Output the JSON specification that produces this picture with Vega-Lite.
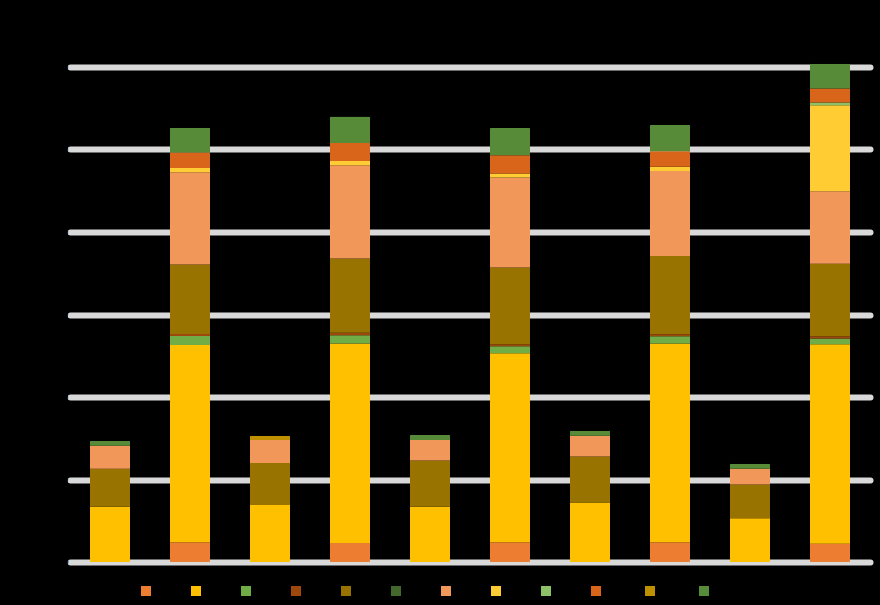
{
  "$schema": "https://vega.github.io/schema/vega-lite/v6.json",
  "width": 800,
  "height": 495,
  "autosize": {"type": "none"},
  "padding": {"left": 70, "top": 67, "right": 10, "bottom": 43},
  "background": "black",
  "config": {
    "view": {"stroke": null},
    "font": "Liberation Sans",
    "axis": {"labelColor": "black", "titleColor": "black", "domain": false, "ticks": false},
    "legend": {"labelColor": "black", "titleColor": "black"}
  },
  "data": {
    "values": [
      {"b": "1", "s": "Series 2", "k": 2, "v": 6.7},
      {"b": "1", "s": "Series 5", "k": 5, "v": 4.6},
      {"b": "1", "s": "Series 7", "k": 7, "v": 2.8},
      {"b": "1", "s": "Series 12", "k": 12, "v": 0.6},
      {"b": "2", "s": "Series 1", "k": 1, "v": 2.4},
      {"b": "2", "s": "Series 2", "k": 2, "v": 23.9},
      {"b": "2", "s": "Series 3", "k": 3, "v": 1.1},
      {"b": "2", "s": "Series 4", "k": 4, "v": 0.25},
      {"b": "2", "s": "Series 5", "k": 5, "v": 8.4},
      {"b": "2", "s": "Series 7", "k": 7, "v": 11.2},
      {"b": "2", "s": "Series 8", "k": 8, "v": 0.5},
      {"b": "2", "s": "Series 10", "k": 10, "v": 1.9},
      {"b": "2", "s": "Series 12", "k": 12, "v": 3.0},
      {"b": "3", "s": "Series 2", "k": 2, "v": 6.9},
      {"b": "3", "s": "Series 5", "k": 5, "v": 5.1},
      {"b": "3", "s": "Series 7", "k": 7, "v": 2.8},
      {"b": "3", "s": "Series 11", "k": 11, "v": 0.5},
      {"b": "4", "s": "Series 1", "k": 1, "v": 2.3},
      {"b": "4", "s": "Series 2", "k": 2, "v": 24.2},
      {"b": "4", "s": "Series 3", "k": 3, "v": 1.0},
      {"b": "4", "s": "Series 4", "k": 4, "v": 0.3},
      {"b": "4", "s": "Series 5", "k": 5, "v": 9.0},
      {"b": "4", "s": "Series 7", "k": 7, "v": 11.3},
      {"b": "4", "s": "Series 8", "k": 8, "v": 0.5},
      {"b": "4", "s": "Series 10", "k": 10, "v": 2.2},
      {"b": "4", "s": "Series 12", "k": 12, "v": 3.2},
      {"b": "5", "s": "Series 2", "k": 2, "v": 6.7},
      {"b": "5", "s": "Series 5", "k": 5, "v": 5.6},
      {"b": "5", "s": "Series 7", "k": 7, "v": 2.5},
      {"b": "5", "s": "Series 12", "k": 12, "v": 0.6},
      {"b": "6", "s": "Series 1", "k": 1, "v": 2.4},
      {"b": "6", "s": "Series 2", "k": 2, "v": 22.9},
      {"b": "6", "s": "Series 3", "k": 3, "v": 0.85},
      {"b": "6", "s": "Series 4", "k": 4, "v": 0.25},
      {"b": "6", "s": "Series 5", "k": 5, "v": 9.3},
      {"b": "6", "s": "Series 7", "k": 7, "v": 10.9},
      {"b": "6", "s": "Series 8", "k": 8, "v": 0.5},
      {"b": "6", "s": "Series 10", "k": 10, "v": 2.2},
      {"b": "6", "s": "Series 12", "k": 12, "v": 3.3},
      {"b": "7", "s": "Series 2", "k": 2, "v": 7.2},
      {"b": "7", "s": "Series 5", "k": 5, "v": 5.6},
      {"b": "7", "s": "Series 7", "k": 7, "v": 2.5},
      {"b": "7", "s": "Series 12", "k": 12, "v": 0.6},
      {"b": "8", "s": "Series 1", "k": 1, "v": 2.4},
      {"b": "8", "s": "Series 2", "k": 2, "v": 24.1},
      {"b": "8", "s": "Series 3", "k": 3, "v": 0.85},
      {"b": "8", "s": "Series 4", "k": 4, "v": 0.25},
      {"b": "8", "s": "Series 5", "k": 5, "v": 9.5},
      {"b": "8", "s": "Series 7", "k": 7, "v": 10.3},
      {"b": "8", "s": "Series 8", "k": 8, "v": 0.5},
      {"b": "8", "s": "Series 10", "k": 10, "v": 1.9},
      {"b": "8", "s": "Series 12", "k": 12, "v": 3.2},
      {"b": "9", "s": "Series 2", "k": 2, "v": 5.3},
      {"b": "9", "s": "Series 5", "k": 5, "v": 4.1},
      {"b": "9", "s": "Series 7", "k": 7, "v": 1.9},
      {"b": "9", "s": "Series 12", "k": 12, "v": 0.6},
      {"b": "10", "s": "Series 1", "k": 1, "v": 2.2},
      {"b": "10", "s": "Series 2", "k": 2, "v": 24.2},
      {"b": "10", "s": "Series 3", "k": 3, "v": 0.7},
      {"b": "10", "s": "Series 4", "k": 4, "v": 0.25},
      {"b": "10", "s": "Series 5", "k": 5, "v": 8.8},
      {"b": "10", "s": "Series 7", "k": 7, "v": 8.8},
      {"b": "10", "s": "Series 8", "k": 8, "v": 10.4},
      {"b": "10", "s": "Series 9", "k": 9, "v": 0.35},
      {"b": "10", "s": "Series 10", "k": 10, "v": 1.7},
      {"b": "10", "s": "Series 12", "k": 12, "v": 3.0}
    ]
  },
  "mark": {"type": "bar", "cornerRadius": 1, "clip": false},
  "encoding": {
    "x": {
      "field": "b",
      "type": "nominal",
      "sort": null,
      "title": null,
      "scale": {"paddingInner": 0.5, "paddingOuter": 0.25},
      "axis": {"labelAngle": 0, "labelFontSize": 11}
    },
    "y": {
      "field": "v",
      "type": "quantitative",
      "aggregate": "sum",
      "stack": "zero",
      "title": null,
      "scale": {"domain": [0, 60], "nice": false},
      "axis": {"values": [0, 10, 20, 30, 40, 50, 60], "grid": true, "gridColor": "#D9D9D9", "gridWidth": 6, "gridCap": "round", "labelFontSize": 11}
    },
    "order": {"field": "k", "type": "quantitative", "sort": "ascending"},
    "color": {
      "field": "s",
      "type": "nominal",
      "title": null,
      "scale": {
        "domain": ["Series 1", "Series 2", "Series 3", "Series 4", "Series 5", "Series 6", "Series 7", "Series 8", "Series 9", "Series 10", "Series 11", "Series 12"],
        "range": ["#ED7D31", "#FFC000", "#70AD47", "#9E480E", "#997300", "#43682B", "#F1975A", "#FFCD33", "#8CC168", "#D9651B", "#BF9000", "#588B38"]
      },
      "legend": {"orient": "none", "legendX": 70, "legendY": 518, "direction": "horizontal", "symbolType": "square", "symbolSize": 100, "labelFontSize": 8, "columnPadding": 4, "padding": 0}
    }
  }
}
